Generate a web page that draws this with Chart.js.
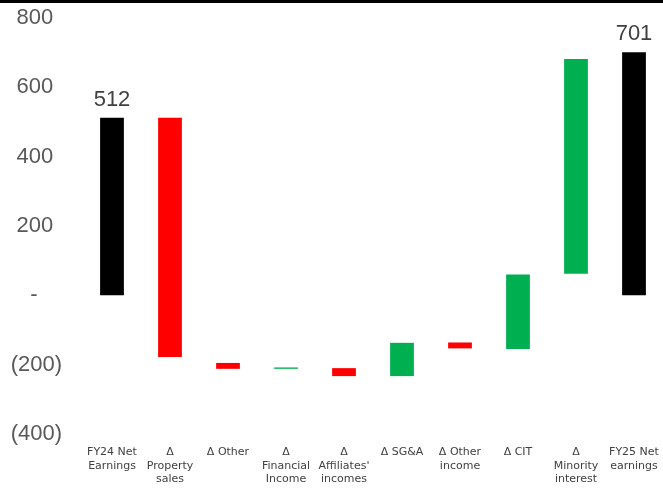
<!DOCTYPE html>
<html>
<head>
<meta charset="utf-8">
<script src="https://cdn.jsdelivr.net/npm/chart.js@4/dist/chart.umd.min.js"></script>
<style>
  html, body { margin: 0; padding: 0; background: #fff; }
  #wrap { width: 663px; height: 491px; position: relative; }
  #topline { position: absolute; left: 0; top: 0; width: 663px; height: 3px; background: #000; }
</style>
</head>
<body>
<div id="wrap">
  <canvas id="myChart" width="663" height="491"></canvas>
  <div id="topline"></div>
</div>
<script>
// categories (x axis labels, split in lines)
var labels = [
  ["FY24 Net", "Earnings"],
  ["Δ", "Property", "sales"],
  ["Δ Other"],
  ["Δ", "Financial", "Income"],
  ["Δ", "Affiliates'", "incomes"],
  ["Δ SG&A"],
  ["Δ Other", "income"],
  ["Δ CIT"],
  ["Δ", "Minority", "interest"],
  ["FY25 Net", "earnings"]
];

// bar start / end values
var barLow  = [0, -178, -212, -212, -233, -233, -153, -155,  62,   0];
var barHigh = [512, 512, -195, -208, -210, -137, -136,   60, 682, 701];

// kind of bar: total, up, down
var kinds = ["total", "down", "down", "up", "down", "up", "down", "up", "up", "total"];

// labels written above the total bars
var totalLabels = ["512", "", "", "", "", "", "", "", "", "701"];

var yTicks = [-400, -200, 0, 200, 400, 600, 800];

var kindColors = { total: '#000000', up: '#00B050', down: '#FF0000' };

var ranges = barLow.map(function (lo, i) { return [lo, barHigh[i]]; });

// accounting style numbers
function fmt(v) {
  if (v === 0) return '-    ';
  if (v < 0) return '(' + Math.abs(v) + ')';
  return v + '\u2009\u2009';
}

var totalLabelPlugin = {
  id: 'totalLabels',
  afterDatasetsDraw: function (chart) {
    var c = chart.ctx;
    var meta = chart.getDatasetMeta(0);
    c.save();
    c.font = '22px "Liberation Sans", Arial, sans-serif';
    c.fillStyle = '#404040';
    c.textAlign = 'center';
    c.textBaseline = 'alphabetic';
    meta.data.forEach(function (bar, i) {
      if (!totalLabels[i]) return;
      c.fillText(totalLabels[i], bar.x, bar.y - 12);
    });
    c.restore();
  }
};

var ctx = document.getElementById('myChart').getContext('2d');
var chart = new Chart(ctx, {
  type: 'bar',
  data: {
    labels: labels,
    datasets: [{
      data: ranges,
      backgroundColor: kinds.map(function (k) { return kindColors[k]; }),
      borderWidth: 0,
      categoryPercentage: 1.0,
      barPercentage: 0.41
    }]
  },
  options: {
    responsive: false,
    animation: false,
    layout: { padding: { top: 18, right: 0, bottom: 0, left: 0 } },
    plugins: {
      legend: { display: false },
      tooltip: { enabled: false }
    },
    scales: {
      x: {
        grid: { display: false, drawTicks: false },
        border: { display: false },
        ticks: {
          color: '#404040',
          font: { family: '"DejaVu Sans", sans-serif', size: 11, lineHeight: 1.2 },
          padding: 12,
          maxRotation: 0,
          autoSkip: false
        },
        afterFit: function (s) {
          s.height = 57;
          s.paddingLeft = 0;
          s.paddingRight = 0;
        }
      },
      y: {
        min: -400,
        max: 800,
        grid: { display: false, drawTicks: false },
        border: { display: false },
        afterBuildTicks: function (s) { s.ticks = yTicks.map(function (v) { return { value: v }; }); },
        ticks: {
          color: '#595959',
          font: { family: '"Liberation Sans", Arial, sans-serif', size: 22 },
          padding: 21,
          callback: function (v) { return fmt(v); }
        },
        afterFit: function (s) {
          s.width = 83;
          s.paddingTop = 0;
          s.paddingBottom = 0;
        }
      }
    }
  },
  plugins: [totalLabelPlugin]
});
</script>
</body>
</html>
